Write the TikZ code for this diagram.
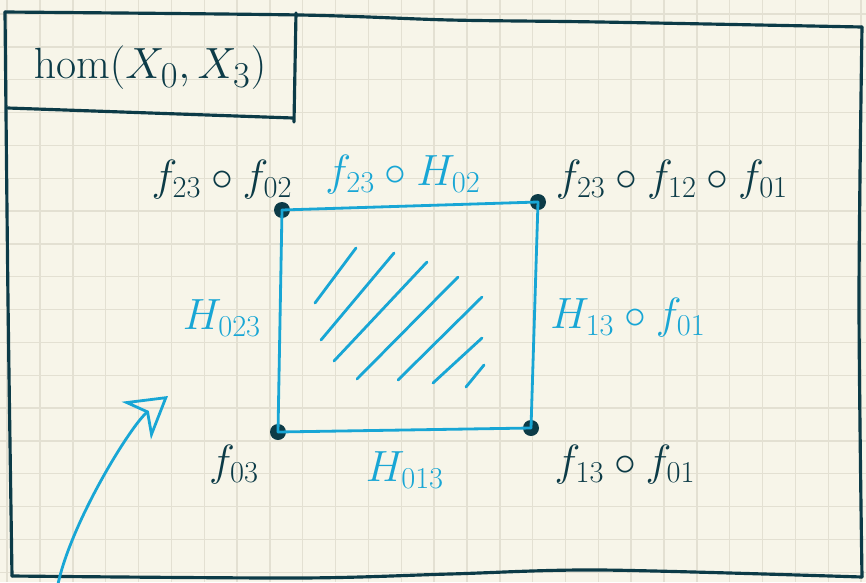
\documentclass[tikz,border=0pt]{standalone}
\usepackage{tikz}
\usetikzlibrary{arrows.meta,positioning,calc}
\definecolor{paperCream}{HTML}{F7F5E9}
\definecolor{paperGrid}{HTML}{E3E0D2}
\definecolor{inkDark}{HTML}{0C3B47}
\definecolor{inkBlue}{HTML}{18A6D5}
\tikzset{
  every picture/.append style={font=\fontsize{24}{28}\selectfont},
  gridline/.style={draw=paperGrid,line width=0.8pt},
  frame/.style={draw=inkDark,line width=1.8pt,line cap=round,line join=round},
  vertex/.style={circle,fill=inkDark,inner sep=0pt,minimum size=3.2mm},
  edge/.style={draw=inkBlue,line width=1.6pt,line cap=round},
  hatch/.style={draw=inkBlue,line width=1.6pt,line cap=round},
  flowarrow/.style={-{Stealth[open,length=8mm,width=9.5mm,inset=2.5mm]},draw=inkBlue,line width=1.6pt},
  darklabel/.style={text=inkDark,inner sep=2pt},
  bluelabel/.style={text=inkBlue,inner sep=2pt},
}

\begin{document}
\begin{tikzpicture}[x=0.02cm,y=-0.02cm]
  \useasboundingbox[fill=paperCream] (0,0) rectangle (866,582);

  % squared paper
  \foreach \k in {0,...,26}
    \draw[gridline] ({7.2+32.84*\k},0) -- ++(0,582);
  \foreach \k in {0,...,17}
    \draw[gridline] (0,{14+32.84*\k}) -- ++(866,0);

  % page frame and title box
  \draw[frame] plot[smooth] coordinates {(5,12) (300,15) (450,20) (600,22) (862,27)};
  \draw[frame] plot[smooth] coordinates {(862,27) (859,300) (862,577)};
  \draw[frame] plot[smooth] coordinates {(12,576) (300,578) (450,574) (600,570) (862,577)};
  \draw[frame] plot[smooth] coordinates {(5,12) (8,300) (12,576)};
  \draw[frame] (296,13) -- (294,122);
  \draw[frame] (8,108) -- (293,118);
  \node[darklabel, font=\fontsize{28}{32}\selectfont] (title) at (150,68) {$\hom(X_0,X_3)$};

  % corners of the square
  \node[vertex] (topleft)  at (282,210) {};
  \node[vertex] (topright) at (538,202) {};
  \node[vertex] (botleft)  at (278,432) {};
  \node[vertex] (botright) at (531,428) {};

  \draw[edge] (topleft.center) -- (topright.center);
  \draw[edge] (topright.center) -- (botright.center);
  \draw[edge] (botleft.center) -- (botright.center);
  \draw[edge] (topleft.center) -- (botleft.center);

  \node[darklabel] (lbltl) at (222,180) {$f_{23}\circ f_{02}$};
  \node[darklabel] (lbltr) at (672,180) {$f_{23}\circ f_{12}\circ f_{01}$};
  \node[darklabel] (lblbl) at (234,465) {$f_{03}$};
  \node[darklabel] (lblbr) at (625,465) {$f_{13}\circ f_{01}$};

  \node[bluelabel] (lbltop)   at (403,175) {$f_{23}\circ H_{02}$};
  \node[bluelabel] (lblleft)  at (222,318) {$H_{023}$};
  \node[bluelabel] (lblright) at (628,318) {$H_{13}\circ f_{01}$};
  \node[bluelabel] (lblbot)   at (405,470) {$H_{013}$};

  % hatching of the filled square
  \draw[hatch] (315,303) -- (356,248);
  \draw[hatch] (321,340) -- (394,253);
  \draw[hatch] (334,361) -- (427,262);
  \draw[hatch] (357,379) -- (458,277);
  \draw[hatch] (398,380) -- (482,297);
  \draw[hatch] (433,383) -- (482,338);
  \draw[hatch] (466,387) -- (484,365);

  % direction of the homotopy
  \coordinate (arrowstart) at (58,584);
  \coordinate (arrowtip) at (168,396);
  \draw[flowarrow] (arrowstart) .. controls (72,520) and (132,424) .. (arrowtip);
\end{tikzpicture}
\end{document}
